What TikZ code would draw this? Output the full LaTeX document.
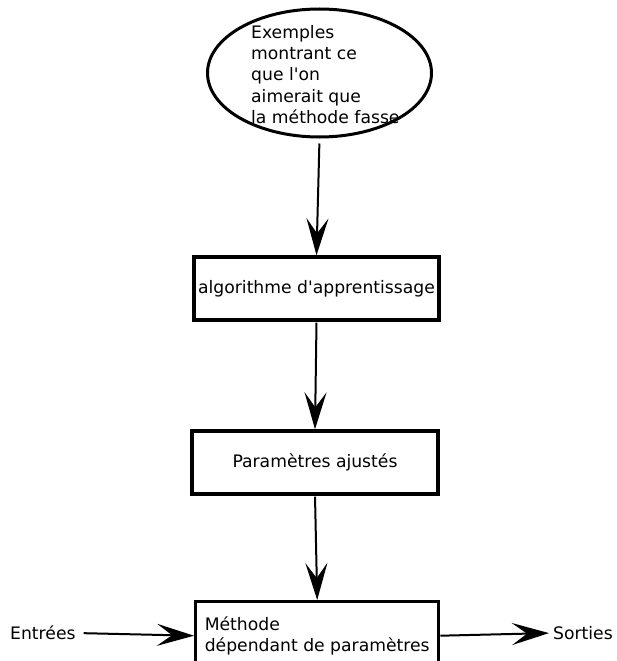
\documentclass[tikz,border=0pt]{standalone}
\usepackage{fontspec}
\setmainfont{DejaVu Sans}[Ligatures=TeXOff]
\usetikzlibrary{arrows.meta,shapes.geometric}
\begin{document}
\begin{tikzpicture}[x=1pt,y=-1pt,
  every node/.style={font=\fontsize{17.2}{21.2}\selectfont},
  box/.style={draw,line width=3.4pt,rectangle,inner sep=0pt},
  arr/.style={line width=2pt,-{Stealth[length=37pt,width=22pt,inset=15pt]}}]
\useasboundingbox (0,0) rectangle (616,661);
\clip (0,0) rectangle (616,661);
\node[draw,ellipse,line width=3pt,minimum width=224pt,minimum height=128pt,inner sep=0pt] (ex) at (319.5,73) {};
\node[align=left,inner sep=0pt,anchor=west] (extext) at (251,74.5) {Exemples\\montrant ce\\que l'on\\aimerait que\\la méthode fasse};
\node[box,minimum width=245pt,minimum height=63pt] (algo) at (316.5,288.5) {algorithme d'apprentissage};
\node[box,minimum width=246pt,minimum height=63pt] (param) at (315,462.5) {Paramètres ajustés};
\node[box,anchor=north west,minimum width=243pt,minimum height=68pt,align=left] (meth) at (194,600) {Méthode\\dépendant de paramètres};
\node[inner sep=0pt,anchor=west] (in) at (10,633) {Entrées};
\node[inner sep=0pt,anchor=west] (out) at (553,633) {Sorties};
\draw[arr,shorten <=5pt] (ex.south) -- (algo.north);
\draw[arr,shorten <=1pt] (algo.south) -- (param.north);
\draw[arr,shorten <=1pt] (param.south) -- (meth.north);
\draw[arr,shorten <=8pt] (in.east) -- (meth.west);
\draw[arr,shorten >=4pt] (meth.east) -- (out.west);
\end{tikzpicture}
\end{document}
